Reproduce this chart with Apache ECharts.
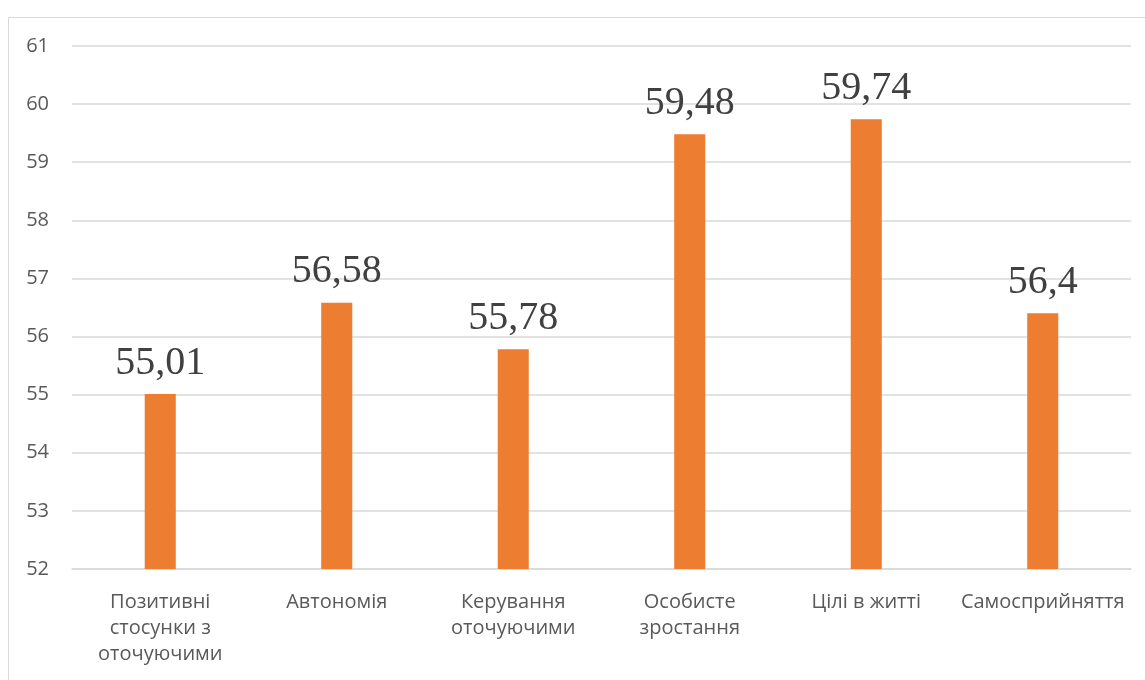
<!DOCTYPE html>
<html>
<head>
<meta charset="utf-8">
<script src="https://cdn.jsdelivr.net/npm/echarts@6/dist/echarts.min.js"></script>
<style>
  html, body { margin: 0; padding: 0; background: #fff; }
  #chart { width: 1145px; height: 680px; }
</style>
</head>
<body>
<div id="chart"></div>
<script>
// Psychological well-being scale scores
const categories = [
  'Позитивні\nстосунки з\nоточуючими',
  'Автономія',
  'Керування\nоточуючими',
  'Особисте\nзростання',
  'Цілі в житті',
  'Самосприйняття'
];
const values = [55.01, 56.58, 55.78, 59.48, 59.74, 56.4];
const yMin = 52;
const yMax = 61;
const yStep = 1;

const chart = echarts.init(document.getElementById('chart'));
chart.setOption({
  animation: false,
  backgroundColor: '#ffffff',
  graphic: [{
    type: 'rect',
    shape: { x: 8.5, y: 17.5, width: 1160, height: 700 },
    style: { fill: 'none', stroke: '#d9d9d9', lineWidth: 1 },
    silent: true,
    z: -1
  }],
  grid: { left: 72, right: 14, top: 46, bottom: 111, containLabel: false },
  xAxis: {
    type: 'category',
    data: categories,
    axisLine: { show: true, lineStyle: { color: '#d9d9d9', width: 1.5 } },
    axisTick: { show: false },
    axisLabel: {
      color: '#595959',
      fontFamily: 'Open Sans, Noto Sans, sans-serif',
      fontSize: 20,
      lineHeight: 26,
      margin: 20,
      interval: 0
    }
  },
  yAxis: {
    type: 'value',
    min: yMin,
    max: yMax,
    interval: yStep,
    axisLine: { show: false },
    axisTick: { show: false },
    splitLine: { lineStyle: { color: '#d9d9d9', width: 1.5 } },
    axisLabel: {
      color: '#595959',
      fontFamily: 'Open Sans, Noto Sans, sans-serif',
      fontSize: 20,
      margin: 23
    }
  },
  series: [{
    type: 'bar',
    data: values,
    barWidth: '17.6%',
    itemStyle: { color: '#ED7D31' },
    label: {
      show: true,
      position: 'top',
      distance: 11,
      color: '#404040',
      fontFamily: 'Liberation Serif, Times New Roman, serif',
      fontSize: 40,
      formatter: p => String(p.value).replace('.', ',')
    }
  }]
});
</script>
</body>
</html>
